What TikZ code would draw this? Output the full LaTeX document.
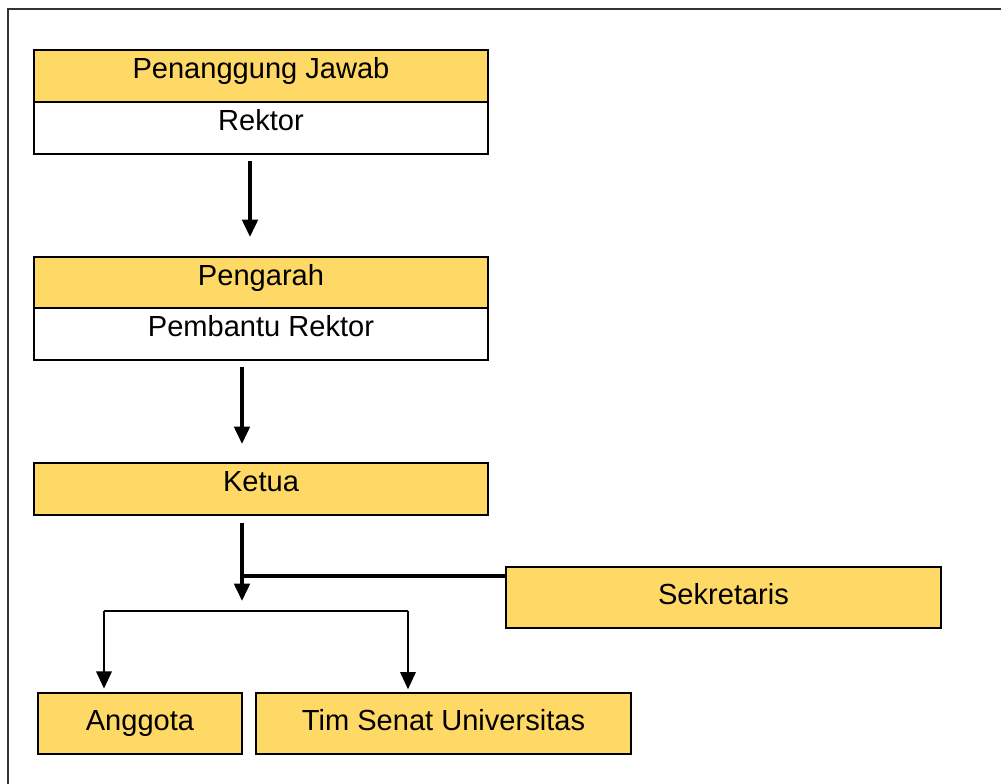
\documentclass[tikz,border=0pt]{standalone}
\usepackage{fontspec}
\setmainfont{Liberation Sans}
\usetikzlibrary{arrows.meta,calc}
\definecolor{boxyellow}{RGB}{255,217,102}
\tikzset{>={Triangle[length=13pt,width=11.5pt]}}

\begin{document}
\begin{tikzpicture}[x=0.75pt,y=-0.75pt,
    headbox/.style={draw, line width=1.5pt, fill=boxyellow, inner sep=0pt,
        minimum width=454*0.75pt, minimum height=52*0.75pt,
        font=\fontsize{21.8}{26}\selectfont, text height=13pt, text depth=9pt},
    subbox/.style={headbox, fill=white},
    unitbox/.style={draw, line width=1.5pt, fill=boxyellow, inner sep=0pt,
        minimum height=61*0.75pt,
        font=\fontsize{21.8}{26}\selectfont, text height=15pt, text depth=4.5pt},
    mainarrow/.style={line width=2.8pt, ->},
    branchline/.style={line width=2pt},
    sekline/.style={line width=3pt}]

    % Frame
    \clip (0,0) rectangle (1001,783);
    \draw[line width=1.1pt, black!80] (8,9) rectangle (1020,800);

    % Penanggung Jawab
    \node[headbox] (pj) at (261,76) {Penanggung Jawab};
    \node[subbox] (rektor) at (261,128) {Rektor};

    % Pengarah
    \node[headbox, minimum height=51*0.75pt] (pengarah) at (261,282.5) {Pengarah};
    \node[subbox] (pr) at (261,334) {Pembantu Rektor};

    % Ketua
    \node[headbox] (ketua) at (261,489) {Ketua};

    % Sekretaris
    \node[unitbox, minimum width=435*0.75pt] (sekretaris) at (723.5,597.5) {Sekretaris};

    % Anggota
    \node[unitbox, minimum width=204*0.75pt] (anggota) at (140,723.5) {Anggota};
    \node[unitbox, minimum width=375*0.75pt] (tim) at (443.5,723.5) {Tim Senat Universitas};

    % Arrows
    \draw[mainarrow] ($(rektor.south)+(-11,6)$) -- ($(pengarah.north)+(-11,-19)$);
    \draw[mainarrow] ($(pr.south)+(-19,6)$) -- ($(ketua.north)+(-19,-18)$);

    \coordinate (k) at ($(ketua.south)+(-19,7)$);
    \draw[mainarrow] (k) -- ($(ketua.south)+(-19,85)$);

    \coordinate (s) at ($(sekretaris.north west)+(0,10)$);
    \draw[sekline] (s) -- (k |- s);

    % Branches
    \coordinate (al) at ($(anggota.north)+(-36,-81)$);
    \coordinate (tl) at ($(tim.north)+(-35.5,-81)$);
    \draw[branchline] (al) -- (tl);
    \draw[branchline, ->, shorten >=2.5pt] (al) -- (al |- anggota.north);
    \draw[branchline, ->, shorten >=2pt] (tl) -- (tl |- tim.north);
\end{tikzpicture}
\end{document}
